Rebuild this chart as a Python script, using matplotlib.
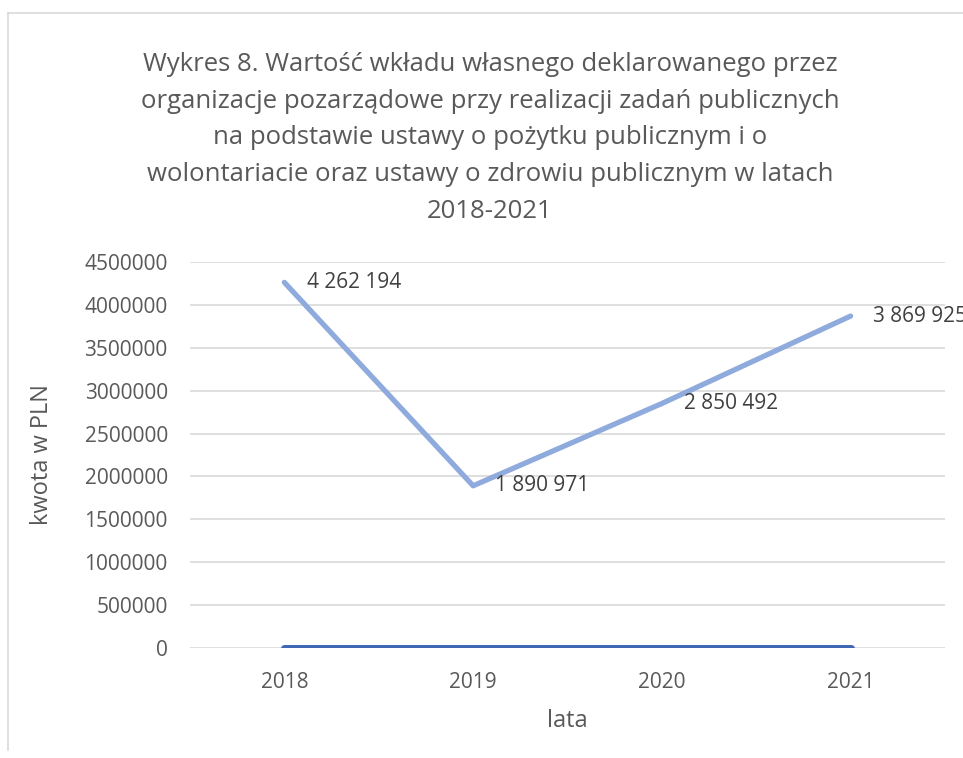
import matplotlib.pyplot as plt
from matplotlib.lines import Line2D

lata = ["2018", "2019", "2020", "2021"]
wklad = [4262194, 1890971, 2850492, 3869925]
druga_seria = [0, 0, 0, 0]
etykiety = ["4 262 194", "1 890 971", "2 850 492", "3 869 925"]

tytul = ("Wykres 8. Wartość wkładu własnego deklarowanego przez\n"
         "organizacje pozarządowe przy realizacji zadań publicznych\n"
         "na podstawie ustawy o pożytku publicznym i o\n"
         "wolontariacie oraz ustawy o zdrowiu publicznym w latach\n"
         "2018-2021")

plt.rcParams["font.family"] = ["Open Sans", "DejaVu Sans"]
szary = "#595959"

fig = plt.figure(figsize=(9.63, 7.58), dpi=100)
ax = fig.add_axes([190 / 963, 1 - 648 / 758, 755 / 963, 386 / 758])

x = list(range(len(lata)))
ax.plot(x, druga_seria, color="#3F66B2", lw=5, solid_capstyle="round", zorder=3)
ax.plot(x, wklad, color="#8FAADC", lw=3.8, solid_capstyle="round", zorder=4)

# etykiety danych (ostatnia ucięta przy krawędzi, jak w oryginale)
for xi, v, t in zip(x, wklad, etykiety):
    ax.annotate(t, (xi, v), xytext=(16, 0), textcoords="offset points",
                va="center", ha="left", fontsize=15, color="#404040", zorder=5)

ax.set_xlim(-0.5, len(lata) - 0.5)
ax.set_ylim(0, 4500000)
ax.set_yticks(range(0, 4500001, 500000))
ax.set_yticklabels([str(v) for v in range(0, 4500001, 500000)])
ax.set_xticks(x)
ax.set_xticklabels(lata)
ax.tick_params(length=0, labelsize=15, colors=szary, pad=16)
ax.tick_params(axis="x", pad=17)
ax.grid(axis="y", color="#D9D9D9", lw=1.2)
ax.set_axisbelow(True)
for s in ax.spines.values():
    s.set_visible(False)

ax.set_ylabel("kwota w PLN", fontsize=17, color=szary, labelpad=22)
ax.set_xlabel("lata", fontsize=17, color=szary, labelpad=12)

fig.text(490 / 963, 1 - 138 / 758, tytul, ha="center", va="center",
         fontsize=18.5, color=szary, linespacing=1.62)

fig.add_artist(Line2D([8 / 963, 8 / 963], [0.01, 1 - 13 / 758],
                      transform=fig.transFigure, color="#D9D9D9", lw=1.2))
fig.add_artist(Line2D([8 / 963, 1.0], [1 - 13 / 758, 1 - 13 / 758],
                      transform=fig.transFigure, color="#D9D9D9", lw=1.2))

fig.savefig("out.png", dpi=100)
